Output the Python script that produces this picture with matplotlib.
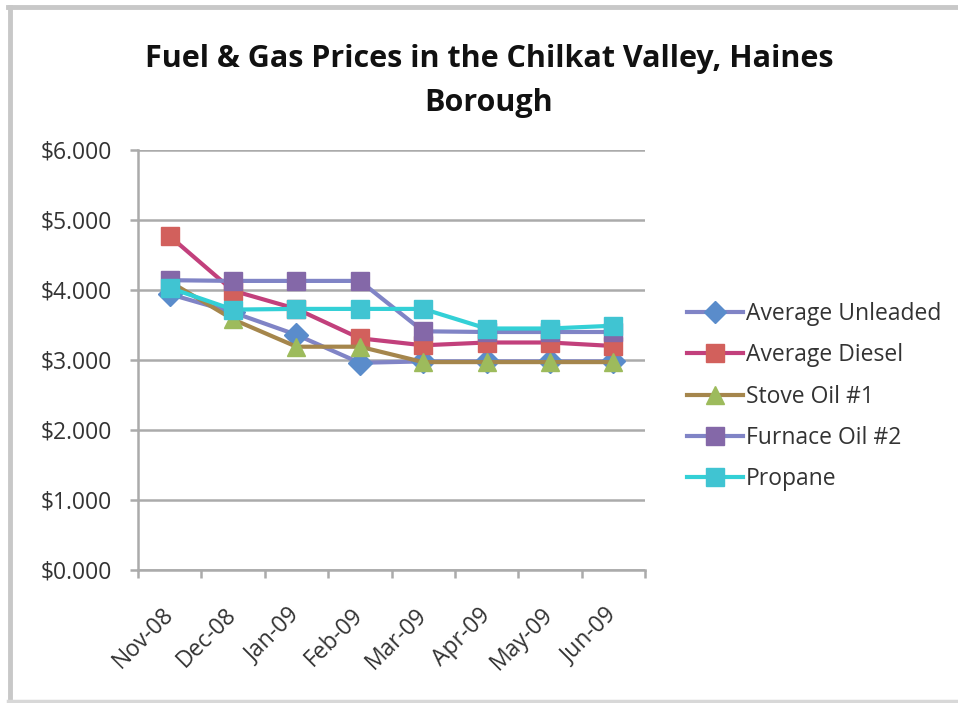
import matplotlib
matplotlib.use("Agg")
import matplotlib.pyplot as plt
from matplotlib.lines import Line2D

months = ["Nov-08", "Dec-08", "Jan-09", "Feb-09", "Mar-09", "Apr-09", "May-09", "Jun-09"]
unleaded = [3.94, 3.68, 3.36, 2.96, 2.98, 2.98, 2.98, 2.98]
diesel = [4.77, 3.99, 3.73, 3.31, 3.21, 3.25, 3.25, 3.20]
stove_oil = [4.12, 3.58, 3.19, 3.19, 2.97, 2.97, 2.97, 2.97]
furnace_oil = [4.14, 4.13, 4.13, 4.13, 3.41, 3.40, 3.40, 3.40]
propane = [4.03, 3.72, 3.73, 3.73, 3.73, 3.45, 3.45, 3.49]
yticks = [0, 1, 2, 3, 4, 5, 6]

W, H = 958, 703
fig = plt.figure(figsize=(W / 100, H / 100), dpi=100)
fig.patch.set_facecolor("white")

FONT = ["Open Sans", "DejaVu Sans"]
GRID = "#ABABAB"

ax = fig.add_axes([138 / W, 1 - 570 / H, 507 / W, 420 / H])

x = list(range(len(months)))
series = [
    ("Average Unleaded", unleaded, "#8084C6", "#5A8CCB", "D", 12),
    ("Average Diesel", diesel, "#C2407C", "#D2605C", "s", 13),
    ("Stove Oil #1", stove_oil, "#A5864C", "#9DBB5C", "^", 13),
    ("Furnace Oil #2", furnace_oil, "#8084C6", "#8468A8", "s", 13),
    ("Propane", propane, "#33D0D6", "#40C4D2", "s", 13),
]
handles = []
for name, vals, lc, mc, mk, ms in series:
    ln, = ax.plot(x, vals, color=lc, lw=3.0, marker=mk, markersize=ms,
                  markerfacecolor=mc, markeredgecolor=mc, markeredgewidth=1.0,
                  label=name, zorder=3)
    handles.append(ln)

ax.set_xlim(-0.5, len(months) - 0.5)
ax.set_ylim(0, 6)
ax.set_yticks(yticks)
ax.set_yticklabels([f"${v:.3f}" for v in yticks], fontsize=16.5, color="#333333",
                   family=FONT)
ax.yaxis.grid(True, color=GRID, lw=1.8)
ax.set_axisbelow(True)

ax.set_xticks([i - 0.5 for i in range(len(months) + 1)], minor=False)
ax.set_xticklabels([])
ax.set_xticks(x, minor=True)
ax.set_xticklabels(months, minor=True, rotation=45, ha="right", va="center",
                   rotation_mode="anchor", fontsize=16.5, color="#333333",
                   family=FONT)
ax.tick_params(axis="x", which="minor", length=0, pad=30)
ax.tick_params(axis="x", which="major", length=6, color=GRID, width=1.8)
ax.tick_params(axis="y", length=6, color=GRID, width=1.8, pad=13)

for s in ["top", "right"]:
    ax.spines[s].set_visible(False)
for s in ["left", "bottom"]:
    ax.spines[s].set_color(GRID)
    ax.spines[s].set_linewidth(1.8)

leg = fig.legend(handles=handles, loc="upper left",
                 bbox_to_anchor=(678 / W, 1 - 293 / H), frameon=False,
                 prop={"family": FONT, "size": 16.5},
                 handlelength=2.45, handletextpad=0.1, labelspacing=0.75,
                 borderaxespad=0, markerscale=0.95)
for t in leg.get_texts():
    t.set_color("#333333")

fig.text(489 / W, 1 - 67 / H, "Fuel & Gas Prices in the Chilkat Valley, Haines",
         ha="center", va="baseline", fontsize=22, fontweight="bold",
         family=FONT, color="#111111")
fig.text(489 / W, 1 - 111 / H, "Borough",
         ha="center", va="baseline", fontsize=22, fontweight="bold",
         family=FONT, color="#111111")

# outer chart border (left, top, bottom)
border_c = "#C8C8C8"
fig.add_artist(Line2D([9.5 / W, 9.5 / W], [1 - 7 / H, 1 - 701 / H], color=border_c, lw=3.5,
                      transform=fig.transFigure))
fig.add_artist(Line2D([8 / W, 1.0], [1 - 7 / H, 1 - 7 / H], color=border_c, lw=3.5,
                      transform=fig.transFigure))
fig.add_artist(Line2D([8 / W, 1.0], [1 - 701 / H, 1 - 701 / H], color="#D8D8D8", lw=2.5,
                      transform=fig.transFigure))

fig.savefig("out.png", dpi=100, facecolor="white")
